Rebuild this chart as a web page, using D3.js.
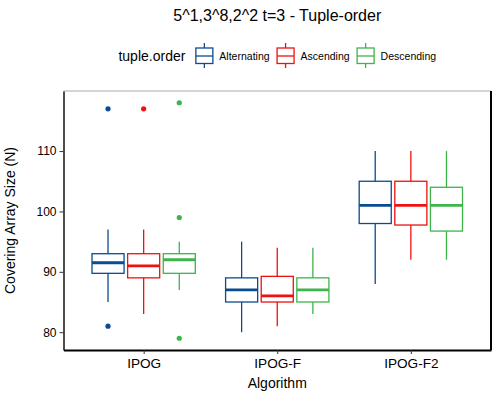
<!DOCTYPE html>
<html>
<head>
<meta charset="utf-8">
<script src="https://cdn.jsdelivr.net/npm/d3@7"></script>
<style>
  body { margin: 0; background: #fff; }
  text { font-family: "Liberation Sans", Arial, Helvetica, sans-serif; fill: #000; }
</style>
</head>
<body>
<svg id="chart" width="500" height="400"></svg>
<script>
const algorithms = ["IPOG", "IPOG-F", "IPOG-F2"];
const orders = ["Alternating", "Ascending", "Descending"];
const colors = ["#0B4C8F", "#EE1111", "#3DB54A"];
const yTicks = [80, 90, 100, 110];

// [low whisker, q1, median, q3, high whisker] per algorithm, per order
const alternating = [[85, 89.75, 91.5, 93, 97], [80, 85, 87, 89, 95], [88, 98, 101, 105, 110]];
const ascending   = [[83, 89, 91, 93, 97],      [81, 85, 86, 89.25, 94], [92, 97.75, 101, 105, 110]];
const descending  = [[87, 89.75, 92, 93, 95],   [83, 85, 87, 89, 94], [92, 96.75, 101, 104, 110]];
const alternatingOut = [[117, 81], [], []];
const ascendingOut   = [[117], [], []];
const descendingOut  = [[118, 99, 79], [], []];

const stats = [alternating, ascending, descending];
const outliers = [alternatingOut, ascendingOut, descendingOut];

const svg = d3.select("#chart");
const pLeft = 63.5, pRight = 491, pTop = 91, pBottom = 350;

const x = d3.scalePoint().domain(algorithms).range([pLeft, pRight]).padding(0.6);
const inner = d3.scaleBand().domain(orders)
  .range([-0.4 * x.step(), 0.4 * x.step()]).paddingInner(0.1).paddingOuter(0.05);
const y = d3.scaleLinear().domain([77.05, 119.95]).range([pBottom, pTop]);
const color = d3.scaleOrdinal().domain(orders).range(colors);

// title
svg.append("text").attr("x", (pLeft + pRight) / 2).attr("y", 21)
  .attr("text-anchor", "middle").style("font-size", "16px")
  .text("5^1,3^8,2^2 t=3 - Tuple-order");

// boxes
const boxes = [];
orders.forEach((o, oi) => {
  algorithms.forEach((a, ai) => {
    boxes.push({ order: o, alg: a, s: stats[oi][ai], out: outliers[oi][ai] });
  });
});

const plot = svg.append("g");
const g = plot.selectAll("g.box").data(boxes).enter().append("g").attr("class", "box");
const cx = d => x(d.alg) + inner(d.order) + inner.bandwidth() / 2;

g.append("line")
  .attr("x1", cx).attr("x2", cx)
  .attr("y1", d => y(d.s[0])).attr("y2", d => y(d.s[4]))
  .attr("stroke", d => color(d.order)).attr("stroke-width", 1.3);
g.append("rect")
  .attr("x", d => x(d.alg) + inner(d.order))
  .attr("width", inner.bandwidth())
  .attr("y", d => y(d.s[3]))
  .attr("height", d => y(d.s[1]) - y(d.s[3]))
  .attr("fill", "#fff")
  .attr("stroke", d => color(d.order)).attr("stroke-width", 1.3);
g.append("line")
  .attr("x1", d => x(d.alg) + inner(d.order))
  .attr("x2", d => x(d.alg) + inner(d.order) + inner.bandwidth())
  .attr("y1", d => y(d.s[2])).attr("y2", d => y(d.s[2]))
  .attr("stroke", d => color(d.order)).attr("stroke-width", 2.8);
g.selectAll("circle").data(d => d.out.map(v => ({ v, d }))).enter().append("circle")
  .attr("cx", p => cx(p.d)).attr("cy", p => y(p.v)).attr("r", 2.6)
  .attr("fill", p => color(p.d.order));

// panel frame
svg.append("line").attr("x1", pLeft).attr("x2", pRight).attr("y1", pTop).attr("y2", pTop)
  .attr("stroke", "#aaa").attr("stroke-width", 1);
svg.append("line").attr("x1", pRight).attr("x2", pRight).attr("y1", pTop).attr("y2", pBottom)
  .attr("stroke", "#000").attr("stroke-width", 2);

// axes
const yAxis = svg.append("g").attr("transform", `translate(${pLeft},0)`)
  .call(d3.axisLeft(y).tickValues(yTicks).tickSize(4).tickPadding(3).tickSizeOuter(0));
yAxis.select(".domain").attr("stroke", "#000").attr("stroke-width", 1.4);
yAxis.selectAll(".tick line").attr("stroke", "#333");
yAxis.selectAll(".tick text").style("font-size", "12px").attr("fill", "#000");

const xAxis = svg.append("g").attr("transform", `translate(0,${pBottom})`)
  .call(d3.axisBottom(x).tickSize(4).tickPadding(4).tickSizeOuter(0));
xAxis.select(".domain").attr("stroke", "#000").attr("stroke-width", 2);
xAxis.selectAll(".tick line").attr("stroke", "#333");
xAxis.selectAll(".tick text").style("font-size", "13.6px").attr("fill", "#000");

svg.append("text").attr("x", (pLeft + pRight) / 2).attr("y", 388)
  .attr("text-anchor", "middle").style("font-size", "14px").text("Algorithm");
svg.append("text")
  .attr("transform", `translate(15,${(pTop + pBottom) / 2}) rotate(-90)`)
  .attr("text-anchor", "middle").style("font-size", "14px").text("Covering Array Size (N)");

// legend
const legend = svg.append("g");
const ly = 56;
const lt = legend.append("text").attr("x", 0).attr("y", ly).attr("dy", "0.35em")
  .style("font-size", "14px").text("tuple.order");
let cur = lt.node().getComputedTextLength() + 9;
orders.forEach(o => {
  const k = legend.append("g").attr("transform", `translate(${cur},0)`);
  k.append("line").attr("x1", 10).attr("x2", 10).attr("y1", ly - 13).attr("y2", ly + 12)
    .attr("stroke", color(o)).attr("stroke-width", 1.3);
  k.append("rect").attr("x", 1.5).attr("y", ly - 8).attr("width", 17).attr("height", 15.5)
    .attr("fill", "#fff").attr("stroke", color(o)).attr("stroke-width", 1.3);
  k.append("line").attr("x1", 1.5).attr("x2", 18.5).attr("y1", ly).attr("y2", ly)
    .attr("stroke", color(o)).attr("stroke-width", 1.3);
  const t = k.append("text").attr("x", 25).attr("y", ly).attr("dy", "0.35em")
    .style("font-size", "10.5px").text(o);
  cur += 25 + t.node().getComputedTextLength() + 6;
});
const lw = cur - 6;
legend.attr("transform", `translate(${(pLeft + pRight) / 2 - lw / 2},0)`);
</script>
</body>
</html>
